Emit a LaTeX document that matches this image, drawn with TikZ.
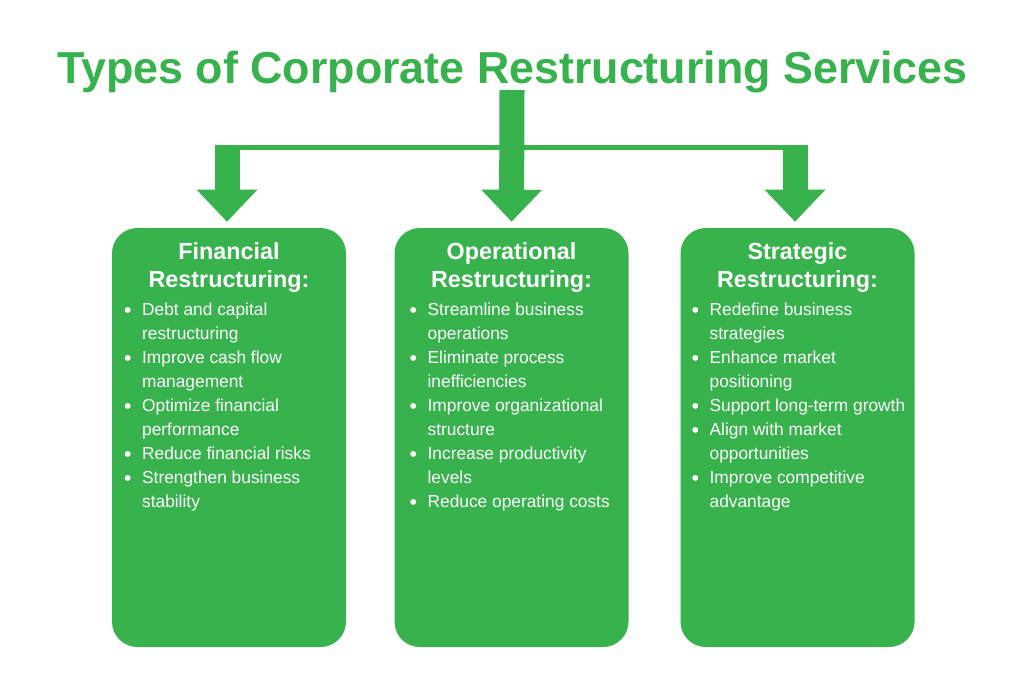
\documentclass[tikz,border=0pt]{standalone}
\usepackage{fontspec}
\setmainfont{Liberation Sans}
\usepackage{tikz}
\usetikzlibrary{arrows.meta,positioning,calc}
\usepackage{xcolor}
\definecolor{rsgreen}{RGB}{55,178,77}

\newcommand{\blist}[1]{\begin{tabular}{@{}l@{\hspace{8pt}}l@{}}#1\end{tabular}}
\newcommand{\bdot}{\raisebox{-1.2pt}{\fontsize{16}{18}\selectfont\textbullet}}

\begin{document}
\begin{tikzpicture}[x=0.75pt,y=-0.75pt,>=Stealth,
    panel/.style={fill=rsgreen,rounded corners=19pt,minimum width=175.5pt,
                  minimum height=314.25pt,inner sep=0pt},
    head/.style={text=white,align=center,inner sep=0pt,anchor=north,
                 font=\fontsize{17.5}{21}\selectfont\bfseries},
    items/.style={text=white,inner sep=0pt,anchor=north west,
                  font=\fontsize{13}{18}\selectfont},
    bararrow/.style={draw=rsgreen,line width=18.75pt,
                     -{Triangle[width=44pt,length=24pt]},shorten >=4.5pt}]
  \useasboundingbox[fill=white] (0,0) rectangle (1024,683);

  \node[text=rsgreen,anchor=base,inner sep=0pt,
        font=\fontsize{33.6}{40}\selectfont\bfseries]
    (title) at (512.5,83) {Types of Corporate Restructuring Services};

  % three panels
  \node[panel] (fin) at (229,437.5) {};
  \node[panel] (ops) at (511.5,437.5) {};
  \node[panel] (str) at (797.5,437.5) {};

  \node[head] (finhead) at ($(fin.north)+(0,15)$) {Financial\\Restructuring:};
  \node[head] (opshead) at ($(ops.north)+(0,15)$) {Operational\\Restructuring:};
  \node[head] (strhead) at ($(str.north)+(0,15)$) {Strategic\\Restructuring:};

  \node[items] (finlist) at ($(fin.north west)+(12,71)$) {\blist{%
    \bdot & Debt and capital\\ & restructuring\\
    \bdot & Improve cash flow\\ & management\\
    \bdot & Optimize financial\\ & performance\\
    \bdot & Reduce financial risks\\
    \bdot & Strengthen business\\ & stability}};
  \node[items] (opslist) at ($(ops.north west)+(15,71)$) {\blist{%
    \bdot & Streamline business\\ & operations\\
    \bdot & Eliminate process\\ & inefficiencies\\
    \bdot & Improve organizational\\ & structure\\
    \bdot & Increase productivity\\ & levels\\
    \bdot & Reduce operating costs}};
  \node[items] (strlist) at ($(str.north west)+(11,71)$) {\blist{%
    \bdot & Redefine business\\ & strategies\\
    \bdot & Enhance market\\ & positioning\\
    \bdot & Support long-term growth\\
    \bdot & Align with market\\ & opportunities\\
    \bdot & Improve competitive\\ & advantage}};

  % arrows from the title
  \coordinate (trunk) at (512,90);
  \coordinate (jl) at (227,145);
  \coordinate (jr) at (795,145);
  \draw[rsgreen,line width=3.75pt] ($(jl)+(0,2.5)$) -- ($(jr)+(0,2.5)$);
  \draw[bararrow] (trunk) -- (ops.north);
  \draw[bararrow] (jl) -- (jl |- fin.north);
  \draw[bararrow] (jr) -- (jr |- str.north);
\end{tikzpicture}
\end{document}
